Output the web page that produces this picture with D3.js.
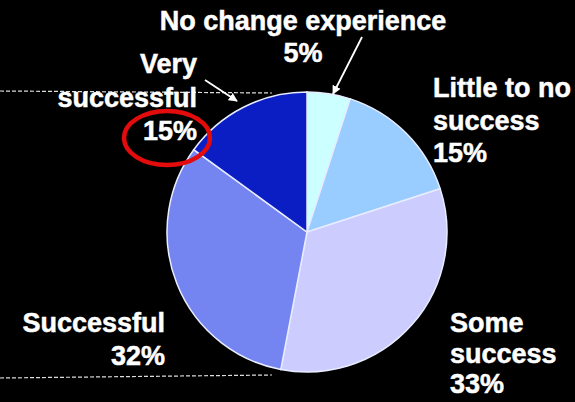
<!DOCTYPE html>
<html>
<head>
<meta charset="utf-8">
<script src="https://cdn.jsdelivr.net/npm/d3@7"></script>
<style>
html,body{margin:0;padding:0;background:#000;}
svg{display:block;}
</style>
</head>
<body>
<script>
const categories = ["No change experience", "Little to no success", "Some success", "Successful", "Very successful"];
const values = [5, 15, 33, 32, 15];
const colors = ["#ccffff", "#99ccff", "#ccccff", "#7485f2", "#0b1ec4"];
const percentLabels = ["5%", "15%", "33%", "32%", "15%"];

const W = 575, H = 402;
const cx = 307, cy = 232, R = 140;

const svg = d3.select("body").append("svg").attr("width", W).attr("height", H)
  .style("background", "#000");

const defs = svg.append("defs");
defs.append("marker").attr("id", "ah").attr("viewBox", "0 0 10 10")
  .attr("refX", 9).attr("refY", 5).attr("markerWidth", 5).attr("markerHeight", 5)
  .attr("orient", "auto")
  .append("path").attr("d", "M0,0 L10,5 L0,10 z").attr("fill", "#fff");

// dashed guide lines
svg.append("line").attr("x1", 0).attr("y1", 91).attr("x2", 272).attr("y2", 93)
  .attr("stroke", "#ddd").attr("stroke-width", 1.2).attr("stroke-dasharray", "4,2");
svg.append("line").attr("x1", 0).attr("y1", 378).attr("x2", 272).attr("y2", 375)
  .attr("stroke", "#ddd").attr("stroke-width", 1.2).attr("stroke-dasharray", "4,2");

const data = categories.map((c, i) => ({ cat: c, value: values[i], color: colors[i], pct: percentLabels[i] }));
const pie = d3.pie().sort(null).value(d => d.value).startAngle(0).endAngle(2 * Math.PI);
const arc = d3.arc().innerRadius(0).outerRadius(R);

const g = svg.append("g").attr("transform", `translate(${cx},${cy})`);
g.selectAll("path").data(pie(data)).join("path")
  .attr("d", arc)
  .attr("fill", d => d.data.color)
  .attr("stroke", "#e8ecff")
  .attr("stroke-width", 1.5);

// red ellipse highlight
svg.append("ellipse").attr("cx", 167).attr("cy", 138).attr("rx", 43).attr("ry", 27)
  .attr("fill", "none").attr("stroke", "#e30b0b").attr("stroke-width", 4.5);

// arrows
svg.append("line").attr("x1", 205).attr("y1", 80).attr("x2", 237).attr("y2", 101)
  .attr("stroke", "#fff").attr("stroke-width", 1.8).attr("marker-end", "url(#ah)");
svg.append("line").attr("x1", 362).attr("y1", 37).attr("x2", 333).attr("y2", 94)
  .attr("stroke", "#fff").attr("stroke-width", 1.8).attr("marker-end", "url(#ah)");

// labels
const font = "'Liberation Sans', Arial, sans-serif";
function label(lines, x, y0, anchor, dy) {
  const t = svg.append("text").attr("x", x).attr("y", y0)
    .attr("text-anchor", anchor).attr("fill", "#fff")
    .attr("stroke", "#fff").attr("stroke-width", 0.5)
    .attr("font-family", font).attr("font-weight", "bold").attr("font-size", 27);
  lines.forEach((l, i) => {
    t.append("tspan").attr("x", x).attr("y", y0 + i * dy).text(l);
  });
}
label([data[0].cat, data[0].pct], 303, 30, "middle", 32);
label(["Little to no", "success", data[1].pct], 433, 97, "start", 32.5);
label(["Some", "success", data[2].pct], 450, 332, "start", 30.5);
label([data[3].cat, data[3].pct], 165, 332, "end", 33);
label(["Very", "successful", data[4].pct], 197, 73, "end", 33.5);
</script>
</body>
</html>
